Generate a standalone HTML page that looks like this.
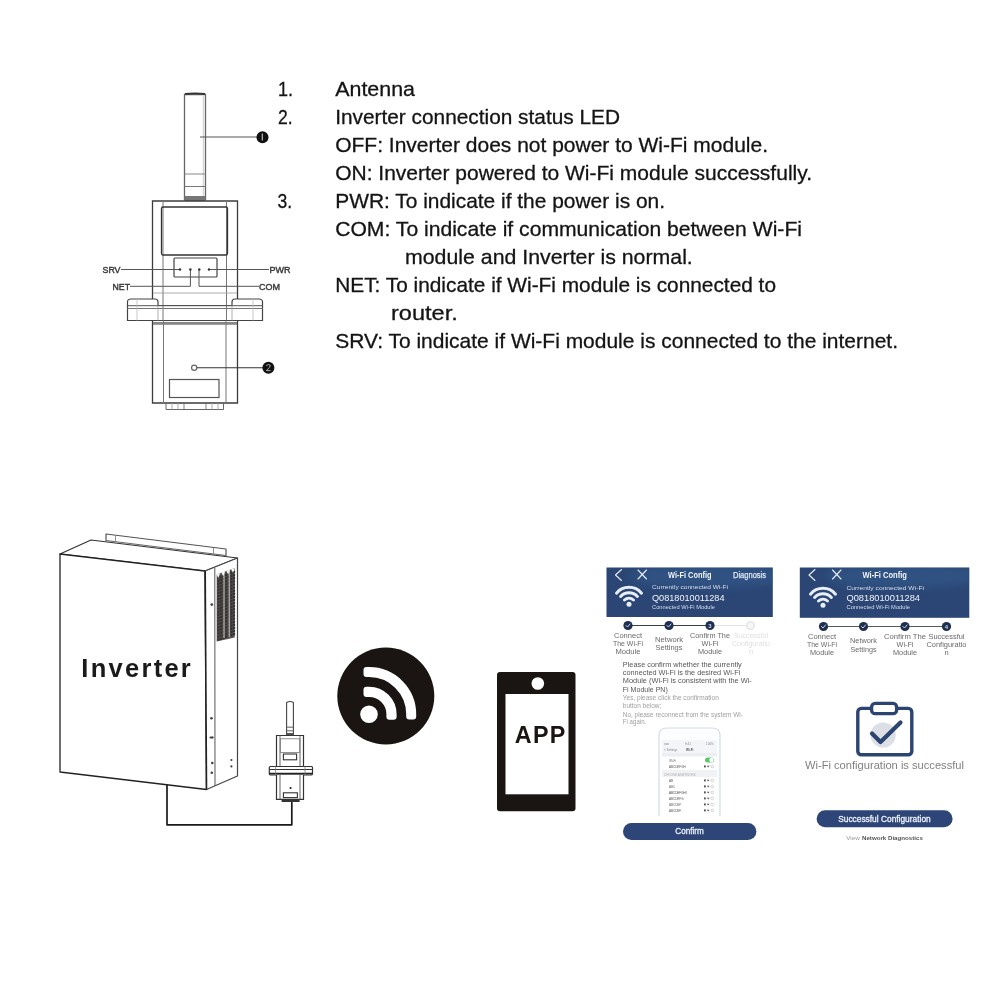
<!DOCTYPE html>
<html><head><meta charset="utf-8">
<style>
html,body{margin:0;padding:0;background:#fff;width:1000px;height:1000px;overflow:hidden}
svg{position:absolute;left:0;top:0;display:block;will-change:transform}
text{font-family:"Liberation Sans",sans-serif}
</style></head><body>
<svg width="1000" height="1000" viewBox="0 0 1000 1000">
<!-- TOP TEXT -->
<g id="toptext" font-size="21" fill="#141414" stroke="#141414" stroke-width="0.3">
<text x="278.0" y="96" textLength="15.0" lengthAdjust="spacingAndGlyphs">1.</text>
<text x="278.0" y="124" textLength="14.6" lengthAdjust="spacingAndGlyphs">2.</text>
<text x="277.6" y="208" textLength="14.6" lengthAdjust="spacingAndGlyphs">3.</text>
<text x="335.2" y="96" textLength="79.8" lengthAdjust="spacingAndGlyphs">Antenna</text>
<text x="335.2" y="124" textLength="284.8" lengthAdjust="spacingAndGlyphs">Inverter connection status LED</text>
<text x="335.2" y="152" textLength="432.8" lengthAdjust="spacingAndGlyphs">OFF: Inverter does not power to Wi-Fi module.</text>
<text x="335.2" y="180" textLength="476.8" lengthAdjust="spacingAndGlyphs">ON: Inverter powered to Wi-Fi module successfully.</text>
<text x="335.2" y="208" textLength="329.8" lengthAdjust="spacingAndGlyphs">PWR: To indicate if the power is on.</text>
<text x="335.2" y="236" textLength="466.8" lengthAdjust="spacingAndGlyphs">COM: To indicate if communication between Wi-Fi</text>
<text x="405.0" y="264" textLength="287.8" lengthAdjust="spacingAndGlyphs">module and Inverter is normal.</text>
<text x="335.2" y="292" textLength="440.8" lengthAdjust="spacingAndGlyphs">NET: To indicate if Wi-Fi module is connected to</text>
<text x="391.0" y="320" textLength="66.8" lengthAdjust="spacingAndGlyphs">router.</text>
<text x="335.2" y="348" textLength="562.8" lengthAdjust="spacingAndGlyphs">SRV: To indicate if Wi-Fi module is connected to the internet.</text>
</g>

<!-- MODULE DIAGRAM -->
<g id="module" fill="none" stroke="#444" stroke-width="1">
<!-- antenna -->
<path d="M184.5 200 V94.5 H205.5 V200" stroke="#666" stroke-width="1.3"/>
<path d="M185 94 Q195 92.6 205 94" stroke="#333" stroke-width="1.8"/>
<line x1="203.3" y1="96" x2="203.3" y2="196" stroke="#bbb" stroke-width="0.8"/>
<line x1="184.5" y1="174" x2="205.5" y2="174" stroke="#888"/>
<line x1="184.5" y1="186.5" x2="205.5" y2="186.5" stroke="#777"/>
<rect x="184.5" y="196" width="21" height="5" fill="#777" stroke="none"/>
<line x1="200" y1="137" x2="258" y2="137" stroke="#555" stroke-width="1.1"/>
<circle cx="262.5" cy="137.2" r="6" fill="#111" stroke="none"/><path d="M262.3 133.5 V140.5" stroke="#ccc" stroke-width="1.1"/>
<!-- upper body -->
<path d="M152.5 299 V201 H237.5 V299" stroke="#3c3c3c" stroke-width="1.3"/>
<line x1="163" y1="201" x2="163" y2="320" stroke="#777"/>
<line x1="226.5" y1="201" x2="226.5" y2="320" stroke="#777"/>
<rect x="161.5" y="207" width="66" height="48" rx="1.5" stroke="#333" stroke-width="1.3"/>
<rect x="174" y="258" width="43" height="19" rx="1" stroke="#444" stroke-width="1.2"/>
<!-- LED leads -->
<line x1="121" y1="269.5" x2="180" y2="269.5" stroke="#555"/>
<line x1="209" y1="269.5" x2="269" y2="269.5" stroke="#555"/>
<path d="M130 286.3 H190.4 V269" stroke="#555"/>
<path d="M259 286.3 H199 V269" stroke="#555"/>
<line x1="153" y1="293" x2="237" y2="293" stroke="#999" stroke-width="0.8"/>
<g fill="#333" stroke="none"><circle cx="180" cy="269.5" r="1.2"/><circle cx="190.4" cy="269.5" r="1.2"/><circle cx="199.3" cy="269.5" r="1.2"/><circle cx="209" cy="269.5" r="1.2"/></g>
<!-- clamp -->
<path d="M127.5 320.5 V302 Q127.5 299 131 299 H155 Q158 299 158 302 V305.5 H232 V302 Q232 299 235 299 H259 Q262.5 299 262.5 302 V320.5 Z" stroke="#444" stroke-width="1.2"/>
<line x1="127.5" y1="305.7" x2="262.5" y2="305.7" stroke="#555"/>
<line x1="127.5" y1="308.5" x2="262.5" y2="308.5" stroke="#777"/>
<line x1="137" y1="299" x2="137" y2="320.5" stroke="#bbb" stroke-width="0.8"/>
<line x1="253" y1="299" x2="253" y2="320.5" stroke="#bbb" stroke-width="0.8"/>
<line x1="158" y1="305.5" x2="158" y2="320.5" stroke="#999" stroke-width="0.8"/>
<line x1="232" y1="305.5" x2="232" y2="320.5" stroke="#999" stroke-width="0.8"/>
<!-- lower body -->
<path d="M152.5 320.5 V403 H237.5 V320.5" stroke="#3c3c3c" stroke-width="1.3"/>
<rect x="153" y="322" width="84" height="2.8" fill="#888" stroke="none"/>
<line x1="163.5" y1="320.5" x2="163.5" y2="403" stroke="#777"/>
<line x1="226" y1="320.5" x2="226" y2="403" stroke="#777"/>
<circle cx="194.2" cy="367.8" r="2.6" stroke="#666" stroke-width="1.2"/>
<line x1="197" y1="367.8" x2="263" y2="367.8" stroke="#333" stroke-width="1.1"/>
<circle cx="268.4" cy="367.8" r="6" fill="#111" stroke="none"/><path d="M266.2 365.6 Q268.5 363.5 270.3 365.3 Q270.6 367 266.3 370.6 H270.6" stroke="#bbb" stroke-width="0.9"/>
<rect x="169.5" y="379.5" width="49.5" height="18" stroke="#555" stroke-width="1.2"/>
<!-- connector -->
<path d="M166 403 V409.5 H223.5 V403" stroke="#666"/>
<line x1="172" y1="403" x2="172" y2="409.5" stroke="#999" stroke-width="0.8"/>
<line x1="178" y1="403" x2="178" y2="409.5" stroke="#999" stroke-width="0.8"/>
<line x1="184" y1="403" x2="184" y2="409.5" stroke="#666" stroke-width="0.8"/>
<line x1="206" y1="403" x2="206" y2="409.5" stroke="#666" stroke-width="0.8"/>
<line x1="212" y1="403" x2="212" y2="409.5" stroke="#999" stroke-width="0.8"/>
<line x1="218" y1="403" x2="218" y2="409.5" stroke="#999" stroke-width="0.8"/>
</g>
<g font-size="9.6" fill="#3a3a3a" stroke="#3a3a3a" stroke-width="0.45">
<text x="102.5" y="273" textLength="18" lengthAdjust="spacingAndGlyphs">SRV</text>
<text x="112.5" y="289.8" textLength="17.5" lengthAdjust="spacingAndGlyphs">NET</text>
<text x="269.5" y="273" textLength="21" lengthAdjust="spacingAndGlyphs">PWR</text>
<text x="259" y="289.8" textLength="21" lengthAdjust="spacingAndGlyphs">COM</text>
</g>

<!-- INVERTER -->
<g id="inverter" fill="none" stroke="#333" stroke-width="1.2" stroke-linejoin="round">
<path d="M106 541 V534 L226 549 V556" stroke="#555"/>
<line x1="106" y1="540.5" x2="226" y2="555.5" stroke="#666" stroke-width="1"/>
<line x1="115.5" y1="536" x2="115.5" y2="541.5" stroke="#888" stroke-width="0.9"/>
<line x1="213.5" y1="548" x2="213.5" y2="554" stroke="#888" stroke-width="0.9"/>
<path d="M60 554 L91 540 L237.5 558 L205 571 Z" fill="#fff" stroke="#333"/>
<path d="M60 554 L205 571 L206.5 789.5 L60 772 Z" fill="#fff" stroke="#222" stroke-width="1.3"/>
<path d="M205 571 L237.5 558 L237.5 776 L206.5 789.5" fill="#fff" stroke="#444"/>
<line x1="214.8" y1="568" x2="215" y2="786" stroke="#555" stroke-width="1"/>
<line x1="205.2" y1="571" x2="206.5" y2="789.5" stroke="#222" stroke-width="1.6"/>
<path d="M216.7 574.4 L234.7 568 L234.7 637.5 L216.7 641.5 Z" fill="#5b5150" stroke="none"/>
<g fill="#c9c2c0">
<rect x="217.8" y="577.0" width="1.1" height="1.2"/>
<rect x="217.8" y="580.1" width="1.1" height="1.2"/>
<rect x="217.8" y="583.2" width="1.1" height="1.2"/>
<rect x="217.8" y="586.3" width="1.1" height="1.2"/>
<rect x="217.8" y="589.4" width="1.1" height="1.2"/>
<rect x="217.8" y="592.5" width="1.1" height="1.2"/>
<rect x="217.8" y="595.6" width="1.1" height="1.2"/>
<rect x="217.8" y="598.7" width="1.1" height="1.2"/>
<rect x="217.8" y="601.8" width="1.1" height="1.2"/>
<rect x="217.8" y="604.9" width="1.1" height="1.2"/>
<rect x="217.8" y="608.0" width="1.1" height="1.2"/>
<rect x="217.8" y="611.1" width="1.1" height="1.2"/>
<rect x="217.8" y="614.2" width="1.1" height="1.2"/>
<rect x="217.8" y="617.3" width="1.1" height="1.2"/>
<rect x="217.8" y="620.4" width="1.1" height="1.2"/>
<rect x="217.8" y="623.5" width="1.1" height="1.2"/>
<rect x="217.8" y="626.6" width="1.1" height="1.2"/>
<rect x="217.8" y="629.7" width="1.1" height="1.2"/>
<rect x="217.8" y="632.8" width="1.1" height="1.2"/>
<rect x="217.8" y="635.9" width="1.1" height="1.2"/>
<rect x="217.8" y="639.0" width="1.1" height="1.2"/>
<rect x="220.4" y="576.1" width="1.1" height="1.2"/>
<rect x="220.4" y="579.2" width="1.1" height="1.2"/>
<rect x="220.4" y="582.3" width="1.1" height="1.2"/>
<rect x="220.4" y="585.4" width="1.1" height="1.2"/>
<rect x="220.4" y="588.5" width="1.1" height="1.2"/>
<rect x="220.4" y="591.6" width="1.1" height="1.2"/>
<rect x="220.4" y="594.7" width="1.1" height="1.2"/>
<rect x="220.4" y="597.8" width="1.1" height="1.2"/>
<rect x="220.4" y="600.9" width="1.1" height="1.2"/>
<rect x="220.4" y="604.0" width="1.1" height="1.2"/>
<rect x="220.4" y="607.1" width="1.1" height="1.2"/>
<rect x="220.4" y="610.2" width="1.1" height="1.2"/>
<rect x="220.4" y="613.3" width="1.1" height="1.2"/>
<rect x="220.4" y="616.4" width="1.1" height="1.2"/>
<rect x="220.4" y="619.5" width="1.1" height="1.2"/>
<rect x="220.4" y="622.6" width="1.1" height="1.2"/>
<rect x="220.4" y="625.7" width="1.1" height="1.2"/>
<rect x="220.4" y="628.8" width="1.1" height="1.2"/>
<rect x="220.4" y="631.9" width="1.1" height="1.2"/>
<rect x="220.4" y="635.0" width="1.1" height="1.2"/>
<rect x="220.4" y="638.1" width="1.1" height="1.2"/>
<rect x="223.0" y="575.2" width="1.1" height="1.2"/>
<rect x="223.0" y="578.3" width="1.1" height="1.2"/>
<rect x="223.0" y="581.4" width="1.1" height="1.2"/>
<rect x="223.0" y="584.5" width="1.1" height="1.2"/>
<rect x="223.0" y="587.6" width="1.1" height="1.2"/>
<rect x="223.0" y="590.7" width="1.1" height="1.2"/>
<rect x="223.0" y="593.8" width="1.1" height="1.2"/>
<rect x="223.0" y="596.9" width="1.1" height="1.2"/>
<rect x="223.0" y="600.0" width="1.1" height="1.2"/>
<rect x="223.0" y="603.1" width="1.1" height="1.2"/>
<rect x="223.0" y="606.2" width="1.1" height="1.2"/>
<rect x="223.0" y="609.3" width="1.1" height="1.2"/>
<rect x="223.0" y="612.4" width="1.1" height="1.2"/>
<rect x="223.0" y="615.5" width="1.1" height="1.2"/>
<rect x="223.0" y="618.6" width="1.1" height="1.2"/>
<rect x="223.0" y="621.7" width="1.1" height="1.2"/>
<rect x="223.0" y="624.8" width="1.1" height="1.2"/>
<rect x="223.0" y="627.9" width="1.1" height="1.2"/>
<rect x="223.0" y="631.0" width="1.1" height="1.2"/>
<rect x="223.0" y="634.1" width="1.1" height="1.2"/>
<rect x="223.0" y="637.2" width="1.1" height="1.2"/>
<rect x="225.6" y="574.2" width="1.1" height="1.2"/>
<rect x="225.6" y="577.3" width="1.1" height="1.2"/>
<rect x="225.6" y="580.4" width="1.1" height="1.2"/>
<rect x="225.6" y="583.5" width="1.1" height="1.2"/>
<rect x="225.6" y="586.6" width="1.1" height="1.2"/>
<rect x="225.6" y="589.7" width="1.1" height="1.2"/>
<rect x="225.6" y="592.8" width="1.1" height="1.2"/>
<rect x="225.6" y="595.9" width="1.1" height="1.2"/>
<rect x="225.6" y="599.0" width="1.1" height="1.2"/>
<rect x="225.6" y="602.1" width="1.1" height="1.2"/>
<rect x="225.6" y="605.2" width="1.1" height="1.2"/>
<rect x="225.6" y="608.3" width="1.1" height="1.2"/>
<rect x="225.6" y="611.4" width="1.1" height="1.2"/>
<rect x="225.6" y="614.5" width="1.1" height="1.2"/>
<rect x="225.6" y="617.6" width="1.1" height="1.2"/>
<rect x="225.6" y="620.7" width="1.1" height="1.2"/>
<rect x="225.6" y="623.8" width="1.1" height="1.2"/>
<rect x="225.6" y="626.9" width="1.1" height="1.2"/>
<rect x="225.6" y="630.0" width="1.1" height="1.2"/>
<rect x="225.6" y="633.1" width="1.1" height="1.2"/>
<rect x="225.6" y="636.2" width="1.1" height="1.2"/>
<rect x="228.2" y="573.3" width="1.1" height="1.2"/>
<rect x="228.2" y="576.4" width="1.1" height="1.2"/>
<rect x="228.2" y="579.5" width="1.1" height="1.2"/>
<rect x="228.2" y="582.6" width="1.1" height="1.2"/>
<rect x="228.2" y="585.7" width="1.1" height="1.2"/>
<rect x="228.2" y="588.8" width="1.1" height="1.2"/>
<rect x="228.2" y="591.9" width="1.1" height="1.2"/>
<rect x="228.2" y="595.0" width="1.1" height="1.2"/>
<rect x="228.2" y="598.1" width="1.1" height="1.2"/>
<rect x="228.2" y="601.2" width="1.1" height="1.2"/>
<rect x="228.2" y="604.3" width="1.1" height="1.2"/>
<rect x="228.2" y="607.4" width="1.1" height="1.2"/>
<rect x="228.2" y="610.5" width="1.1" height="1.2"/>
<rect x="228.2" y="613.6" width="1.1" height="1.2"/>
<rect x="228.2" y="616.7" width="1.1" height="1.2"/>
<rect x="228.2" y="619.8" width="1.1" height="1.2"/>
<rect x="228.2" y="622.9" width="1.1" height="1.2"/>
<rect x="228.2" y="626.0" width="1.1" height="1.2"/>
<rect x="228.2" y="629.1" width="1.1" height="1.2"/>
<rect x="228.2" y="632.2" width="1.1" height="1.2"/>
<rect x="228.2" y="635.3" width="1.1" height="1.2"/>
<rect x="230.8" y="572.4" width="1.1" height="1.2"/>
<rect x="230.8" y="575.5" width="1.1" height="1.2"/>
<rect x="230.8" y="578.6" width="1.1" height="1.2"/>
<rect x="230.8" y="581.7" width="1.1" height="1.2"/>
<rect x="230.8" y="584.8" width="1.1" height="1.2"/>
<rect x="230.8" y="587.9" width="1.1" height="1.2"/>
<rect x="230.8" y="591.0" width="1.1" height="1.2"/>
<rect x="230.8" y="594.1" width="1.1" height="1.2"/>
<rect x="230.8" y="597.2" width="1.1" height="1.2"/>
<rect x="230.8" y="600.3" width="1.1" height="1.2"/>
<rect x="230.8" y="603.4" width="1.1" height="1.2"/>
<rect x="230.8" y="606.5" width="1.1" height="1.2"/>
<rect x="230.8" y="609.6" width="1.1" height="1.2"/>
<rect x="230.8" y="612.7" width="1.1" height="1.2"/>
<rect x="230.8" y="615.8" width="1.1" height="1.2"/>
<rect x="230.8" y="618.9" width="1.1" height="1.2"/>
<rect x="230.8" y="622.0" width="1.1" height="1.2"/>
<rect x="230.8" y="625.1" width="1.1" height="1.2"/>
<rect x="230.8" y="628.2" width="1.1" height="1.2"/>
<rect x="230.8" y="631.3" width="1.1" height="1.2"/>
<rect x="230.8" y="634.4" width="1.1" height="1.2"/>
<rect x="233.4" y="571.5" width="1.1" height="1.2"/>
<rect x="233.4" y="574.6" width="1.1" height="1.2"/>
<rect x="233.4" y="577.7" width="1.1" height="1.2"/>
<rect x="233.4" y="580.8" width="1.1" height="1.2"/>
<rect x="233.4" y="583.9" width="1.1" height="1.2"/>
<rect x="233.4" y="587.0" width="1.1" height="1.2"/>
<rect x="233.4" y="590.1" width="1.1" height="1.2"/>
<rect x="233.4" y="593.2" width="1.1" height="1.2"/>
<rect x="233.4" y="596.3" width="1.1" height="1.2"/>
<rect x="233.4" y="599.4" width="1.1" height="1.2"/>
<rect x="233.4" y="602.5" width="1.1" height="1.2"/>
<rect x="233.4" y="605.6" width="1.1" height="1.2"/>
<rect x="233.4" y="608.7" width="1.1" height="1.2"/>
<rect x="233.4" y="611.8" width="1.1" height="1.2"/>
<rect x="233.4" y="614.9" width="1.1" height="1.2"/>
<rect x="233.4" y="618.0" width="1.1" height="1.2"/>
<rect x="233.4" y="621.1" width="1.1" height="1.2"/>
<rect x="233.4" y="624.2" width="1.1" height="1.2"/>
<rect x="233.4" y="627.3" width="1.1" height="1.2"/>
<rect x="233.4" y="630.4" width="1.1" height="1.2"/>
<rect x="233.4" y="633.5" width="1.1" height="1.2"/>
</g>
<g stroke="#f4f4f4" stroke-width="0.8">
<line x1="224" y1="572" x2="224" y2="638"/>
<line x1="229.2" y1="570" x2="229.2" y2="637"/>
</g>
<g fill="#fff" stroke="none">
<path d="M216.7 574.4 L220 573.2 L218.3 578 Z"/><path d="M221.5 572.6 L225 571.4 L223.2 576.2 Z"/><path d="M226.5 570.9 L230 569.6 L228.2 574.4 Z"/><path d="M231.2 569.2 L234.7 568 L233 572.8 Z"/>
</g>
<g fill="#444" stroke="none">
<circle cx="211.8" cy="604.6" r="1.4"/>
<circle cx="211.5" cy="718.3" r="1.3"/>
<circle cx="212.3" cy="737.5" r="1.3"/><circle cx="210.5" cy="737.5" r="1.1"/>
<circle cx="212.3" cy="763" r="1.3"/>
<circle cx="211.8" cy="772.8" r="1.3"/>
<circle cx="231.4" cy="760" r="1.1"/>
<circle cx="231.4" cy="766.4" r="1.1"/>
</g>
<polyline points="167,784.5 167,824.8 291.8,824.8 291.8,801" stroke="#1a1a1a" stroke-width="1.7"/>
</g>
<text x="81.3" y="677.4" font-size="25.5" font-weight="bold" fill="#1a1a1a" textLength="109.5" lengthAdjust="spacing">Inverter</text>
<!-- small module -->
<g id="smallmod" fill="none" stroke="#333" stroke-width="1">
<path d="M286.6 735 V702.5 Q290 700.5 293.4 702.5 V735" fill="#fff" stroke="#444" stroke-width="1.1"/>
<rect x="287" y="726.5" width="6" height="1.4" fill="#888" stroke="none"/>
<rect x="287" y="730" width="6" height="1.4" fill="#888" stroke="none"/>
<rect x="286.6" y="733" width="6.8" height="2.2" fill="#555" stroke="none"/>
<path d="M276.5 766 V735.5 H303.5 V766" fill="#fff" stroke="#333" stroke-width="1.2"/>
<line x1="280" y1="735.5" x2="280" y2="766" stroke="#555" stroke-width="0.9"/>
<line x1="300" y1="735.5" x2="300" y2="766" stroke="#555" stroke-width="0.9"/>
<rect x="280.3" y="738.8" width="19.5" height="13.6" stroke="#777" stroke-width="0.8"/>
<rect x="283.4" y="754" width="13.2" height="5.8" stroke="#333" stroke-width="1.1"/>
<rect x="269.3" y="766.5" width="43.2" height="8.3" rx="1" fill="#fff" stroke="#333" stroke-width="1.2"/>
<line x1="269.3" y1="769.5" x2="312.5" y2="769.5" stroke="#333" stroke-width="1"/>
<line x1="269.3" y1="773.3" x2="312.5" y2="773.3" stroke="#222" stroke-width="1.3"/>
<line x1="275.6" y1="766.5" x2="275.6" y2="774.8" stroke="#777" stroke-width="0.8"/>
<line x1="305" y1="766.5" x2="305" y2="774.8" stroke="#777" stroke-width="0.8"/>
<path d="M276.5 775 V799.4 H303.5 V775" fill="#fff" stroke="#333" stroke-width="1.2"/>
<line x1="280" y1="775" x2="280" y2="799.4" stroke="#555" stroke-width="0.9"/>
<line x1="300" y1="775" x2="300" y2="799.4" stroke="#555" stroke-width="0.9"/>
<circle cx="290.6" cy="788" r="1.1" fill="#222" stroke="none"/>
<rect x="283.4" y="792.8" width="14" height="4.8" stroke="#333" stroke-width="1.1"/>
<rect x="281.6" y="799" width="18" height="3" fill="#333" stroke="none"/>
</g>
<!-- WIFI CIRCLE -->
<circle cx="385.8" cy="696" r="48.5" fill="#1a1412"/>
<circle cx="369" cy="714.3" r="8.8" fill="#fff"/>
<g fill="#fff" stroke="#fff" stroke-width="6" stroke-linejoin="round">
<path d="M366.5 689.7 H369 A24.6 24.6 0 0 1 393.6 714.3 V716.8 H389.4 V714.3 A20.4 20.4 0 0 0 369 693.9 H366.5 Z"/>
<path d="M366.5 670.1 H369 A44.2 44.2 0 0 1 413.2 714.3 V716.5 H409.2 V714.3 A40.2 40.2 0 0 0 369 674.1 H366.5 Z"/>
</g>
<!-- PHONE -->
<rect x="497" y="672" width="78.5" height="139.3" rx="3" fill="#1a1412"/>
<rect x="505.5" y="694" width="63" height="100.3" fill="#fff"/>
<circle cx="537.8" cy="683.5" r="6.3" fill="#fff"/>
<text x="514.8" y="743.3" font-size="23.3" font-weight="bold" fill="#1a1412" textLength="50.5" lengthAdjust="spacing">APP</text>

<!-- SCREEN 1 -->
<defs>
<clipPath id="h1"><rect x="606.5" y="567.5" width="166.3" height="49.5"/></clipPath>
<clipPath id="h2"><rect x="799.8" y="567.5" width="169.5" height="50.3"/></clipPath>
<filter id="blur4" x="-50%" y="-50%" width="200%" height="200%"><feGaussianBlur stdDeviation="4"/></filter>
</defs>
<rect x="606.5" y="567.5" width="166.3" height="49.5" fill="#2b4675"/>
<g clip-path="url(#h1)"><ellipse cx="710" cy="576" rx="80" ry="12" fill="#3b6a9c" opacity="0.35" filter="url(#blur4)"/></g>
<g fill="none" stroke="#e8eef8" stroke-width="1.1" stroke-linecap="round" stroke-linejoin="round">
<polyline points="621.5,569.5 615.5,575 621.5,580.5"/>
<line x1="638" y1="570" x2="646.5" y2="579"/><line x1="646.5" y1="570" x2="638" y2="579"/>
<path d="M616.5 593.2 A16.3 16.3 0 0 1 641.5 593.2" stroke-width="3"/>
<path d="M620.6 596.5 A11.5 11.5 0 0 1 637.4 596.5" stroke-width="3"/>
<path d="M624.5 600 A6.8 6.8 0 0 1 633.5 600" stroke-width="3"/>
</g>
<circle cx="629" cy="604.3" r="2.5" fill="#e8eef8"/>
<g fill="#f2f5fa">
<text x="668" y="577.8" font-size="8.5" font-weight="bold" textLength="43.5" lengthAdjust="spacingAndGlyphs">Wi-Fi Config</text>
<text x="733" y="577.8" font-size="8.3" fill="#dfe7f3" stroke="#dfe7f3" stroke-width="0.25" textLength="33" lengthAdjust="spacingAndGlyphs">Diagnosis</text>
<text x="652" y="589.3" font-size="6" fill="#d6dfee" textLength="76" lengthAdjust="spacingAndGlyphs">Currently connected Wi-Fi</text>
<text x="652" y="601" font-size="9.3" textLength="72.5" lengthAdjust="spacingAndGlyphs">Q0818010011284</text>
<text x="652" y="608.5" font-size="5.5" fill="#d6dfee" textLength="63" lengthAdjust="spacingAndGlyphs">Connected Wi-Fi Module</text>
</g>
<line x1="628" y1="625.5" x2="710" y2="625.5" stroke="#3a3f4a" stroke-width="1.2"/>
<line x1="710" y1="625.5" x2="750.5" y2="625.5" stroke="#e2e2e2" stroke-width="1.2"/>
<g fill="#1e2f4f">
<circle cx="628" cy="625.5" r="4.6"/><circle cx="669" cy="625.5" r="4.6"/><circle cx="710" cy="625.5" r="4.6"/>
</g>
<circle cx="750.5" cy="625.5" r="4.6" fill="#e6e6e6"/>
<circle cx="750.5" cy="625.5" r="3" fill="#f6f6f6"/>
<g fill="none" stroke="#cfd6e4" stroke-width="1" stroke-linecap="round">
<polyline points="626,625.5 627.5,627 630,624"/>
<polyline points="667,625.5 668.5,627 671,624"/>
</g>
<text x="710" y="627.6" font-size="6" font-weight="bold" fill="#cfd6e4" text-anchor="middle">3</text>
<g font-size="7.5">
<g fill="#6a6a6a">
<text x="628" y="637.7" text-anchor="middle" textLength="28" lengthAdjust="spacingAndGlyphs">Connect</text>
<text x="628" y="645.7" text-anchor="middle" textLength="30" lengthAdjust="spacingAndGlyphs">The Wi-Fi</text>
<text x="628" y="653.7" text-anchor="middle" textLength="25" lengthAdjust="spacingAndGlyphs">Module</text>
<text x="669" y="641.7" text-anchor="middle" textLength="28" lengthAdjust="spacingAndGlyphs">Network</text>
<text x="669" y="649.7" text-anchor="middle" textLength="27" lengthAdjust="spacingAndGlyphs">Settings</text>
<text x="710" y="637.7" text-anchor="middle" textLength="40" lengthAdjust="spacingAndGlyphs">Confirm The</text>
<text x="710" y="645.7" text-anchor="middle" textLength="17" lengthAdjust="spacingAndGlyphs">Wi-Fi</text>
<text x="710" y="653.7" text-anchor="middle" textLength="24" lengthAdjust="spacingAndGlyphs">Module</text>
</g>
<g fill="#e0e0e0">
<text x="751" y="637.7" text-anchor="middle" textLength="34" lengthAdjust="spacingAndGlyphs">Successful</text>
<text x="751" y="645.7" text-anchor="middle" textLength="38" lengthAdjust="spacingAndGlyphs">Configuratio</text>
<text x="751" y="653.7" text-anchor="middle">n</text>
</g>
</g>
<g font-size="7.6">
<g fill="#555">
<text x="622.8" y="666.8" textLength="119" lengthAdjust="spacingAndGlyphs">Please confirm whether the currently</text>
<text x="622.8" y="675" textLength="117.5" lengthAdjust="spacingAndGlyphs">connected Wi-Fi is the desired Wi-Fi</text>
<text x="622.8" y="683.3" textLength="129" lengthAdjust="spacingAndGlyphs">Module (Wi-Fi is consistent with the Wi-</text>
<text x="622.8" y="691.6" textLength="45" lengthAdjust="spacingAndGlyphs">Fi Module PN)</text>
</g>
<g fill="#a0a0a0" font-size="6.8">
<text x="622.8" y="700.4" textLength="96" lengthAdjust="spacingAndGlyphs">Yes, please click the confirmation</text>
<text x="622.8" y="708.4" textLength="38.5" lengthAdjust="spacingAndGlyphs">button below;</text>
<text x="622.8" y="716.8" textLength="120" lengthAdjust="spacingAndGlyphs">No, please reconnect from the system Wi-</text>
<text x="622.8" y="724.4" textLength="23.5" lengthAdjust="spacingAndGlyphs">Fi again.</text>
</g>
</g>
<!-- phone mock -->
<path d="M659 816 V735 Q659 728 667 728 H712 Q720 728 720 735 V816" fill="#fcfdfe" stroke="#d5dde6" stroke-width="1.2"/>
<rect x="662" y="740" width="55" height="76" fill="#fff"/>
<rect x="662" y="740" width="55" height="13" fill="#f4f5f8"/>
<rect x="662" y="753" width="55" height="3.5" fill="#eceef2"/>
<rect x="662" y="770" width="55" height="7" fill="#f1f2f5"/>
<g fill="#888" font-size="3">
<text x="664" y="745">ooo</text><text x="685" y="745">9:41</text><text x="706" y="745">100%</text>
<text x="664" y="750.5">&lt; Settings</text><text x="686" y="750.5" font-weight="bold" fill="#555">Wi-Fi</text>
<text x="669" y="761.5" fill="#666">Wi-Fi</text>
<text x="669" y="768" fill="#555">ABCDEFGH</text>
<text x="664" y="775.5" fill="#aaa">CHOOSE A NETWORK</text>
<text x="669" y="781.5" fill="#555">AB</text>
<text x="669" y="787.5" fill="#666">ABC</text>
<text x="669" y="793.5" fill="#444">ABCDEFGHI</text>
<text x="669" y="799.5" fill="#555">ABCDEFG</text>
<text x="669" y="805.5" fill="#666">ABCDEF</text>
<text x="669" y="811.5" fill="#555">ABCDEF</text>
</g>
<rect x="705" y="757.5" width="9" height="5" rx="2.5" fill="#5cc66a"/>
<circle cx="711.5" cy="760" r="2.2" fill="#fff"/>
<g>
<rect x="704" y="765.4" width="1.8" height="2" fill="#555"/>
<path d="M706.8 765.7 L708.2 767.4 L709.6 765.7 Z" fill="#555"/>
<circle cx="712.3" cy="766.5" r="1.3" fill="none" stroke="#aaa" stroke-width="0.5"/>
<rect x="704" y="779.4" width="1.8" height="2" fill="#555"/>
<path d="M706.8 779.7 L708.2 781.4 L709.6 779.7 Z" fill="#555"/>
<circle cx="712.3" cy="780.5" r="1.3" fill="none" stroke="#aaa" stroke-width="0.5"/>
<rect x="704" y="785.4" width="1.8" height="2" fill="#555"/>
<path d="M706.8 785.7 L708.2 787.4 L709.6 785.7 Z" fill="#555"/>
<circle cx="712.3" cy="786.5" r="1.3" fill="none" stroke="#aaa" stroke-width="0.5"/>
<rect x="704" y="791.4" width="1.8" height="2" fill="#555"/>
<path d="M706.8 791.7 L708.2 793.4 L709.6 791.7 Z" fill="#555"/>
<circle cx="712.3" cy="792.5" r="1.3" fill="none" stroke="#aaa" stroke-width="0.5"/>
<rect x="704" y="797.4" width="1.8" height="2" fill="#555"/>
<path d="M706.8 797.7 L708.2 799.4 L709.6 797.7 Z" fill="#555"/>
<circle cx="712.3" cy="798.5" r="1.3" fill="none" stroke="#aaa" stroke-width="0.5"/>
<rect x="704" y="803.4" width="1.8" height="2" fill="#555"/>
<path d="M706.8 803.7 L708.2 805.4 L709.6 803.7 Z" fill="#555"/>
<circle cx="712.3" cy="804.5" r="1.3" fill="none" stroke="#aaa" stroke-width="0.5"/>
<rect x="704" y="809.4" width="1.8" height="2" fill="#555"/>
<path d="M706.8 809.7 L708.2 811.4 L709.6 809.7 Z" fill="#555"/>
<circle cx="712.3" cy="810.5" r="1.3" fill="none" stroke="#aaa" stroke-width="0.5"/>
</g>
<rect x="600" y="816" width="180" height="6" fill="#fff"/>
<rect x="623" y="823" width="133.4" height="17" rx="8.5" fill="#2e4677"/>
<text x="689.6" y="834" font-size="8.8" fill="#eef2f8" stroke="#eef2f8" stroke-width="0.3" text-anchor="middle" textLength="28.5" lengthAdjust="spacingAndGlyphs">Confirm</text>

<!-- SCREEN 2 -->
<rect x="799.8" y="567.5" width="169.5" height="50.3" fill="#2b4675"/>
<g clip-path="url(#h2)"><ellipse cx="905" cy="576" rx="80" ry="12" fill="#3b6a9c" opacity="0.35" filter="url(#blur4)"/></g>
<g fill="none" stroke="#e8eef8" stroke-width="1.1" stroke-linecap="round" stroke-linejoin="round">
<polyline points="815,569.5 809,575 815,580.5"/>
<line x1="832.5" y1="570" x2="841" y2="579"/><line x1="841" y1="570" x2="832.5" y2="579"/>
<path d="M810.5 594.2 A16.3 16.3 0 0 1 835.5 594.2" stroke-width="3"/>
<path d="M814.6 597.5 A11.5 11.5 0 0 1 831.4 597.5" stroke-width="3"/>
<path d="M818.5 601 A6.8 6.8 0 0 1 827.5 601" stroke-width="3"/>
</g>
<circle cx="823" cy="605.3" r="2.5" fill="#e8eef8"/>
<g fill="#f2f5fa">
<text x="862.5" y="577.8" font-size="8.5" font-weight="bold" textLength="44.5" lengthAdjust="spacingAndGlyphs">Wi-Fi Config</text>
<text x="846.5" y="589.5" font-size="6" fill="#d6dfee" textLength="77.5" lengthAdjust="spacingAndGlyphs">Currently connected Wi-Fi</text>
<text x="846.5" y="601.2" font-size="9.3" textLength="73.5" lengthAdjust="spacingAndGlyphs">Q0818010011284</text>
<text x="846.5" y="609" font-size="5.5" fill="#d6dfee" textLength="63.5" lengthAdjust="spacingAndGlyphs">Connected Wi-Fi Module</text>
</g>
<line x1="823.5" y1="626.5" x2="946.5" y2="626.5" stroke="#555a62" stroke-width="1.2"/>
<g fill="#1e2f4f">
<circle cx="823.5" cy="626.5" r="4.6"/><circle cx="863.5" cy="626.5" r="4.6"/><circle cx="905" cy="626.5" r="4.6"/><circle cx="946.5" cy="626.5" r="4.6"/>
</g>
<g fill="none" stroke="#cfd6e4" stroke-width="1" stroke-linecap="round">
<polyline points="821.5,626.5 823,628 825.5,625"/>
<polyline points="861.5,626.5 863,628 865.5,625"/>
<polyline points="903,626.5 904.5,628 907,625"/>
</g>
<text x="946.5" y="628.6" font-size="6" font-weight="bold" fill="#cfd6e4" text-anchor="middle">4</text>
<g font-size="7.5" fill="#6a6a6a">
<text x="822" y="638.7" text-anchor="middle" textLength="28" lengthAdjust="spacingAndGlyphs">Connect</text>
<text x="822" y="647.2" text-anchor="middle" textLength="30" lengthAdjust="spacingAndGlyphs">The Wi-Fi</text>
<text x="822" y="655.2" text-anchor="middle" textLength="24" lengthAdjust="spacingAndGlyphs">Module</text>
<text x="863.5" y="643" text-anchor="middle" textLength="27" lengthAdjust="spacingAndGlyphs">Network</text>
<text x="863.5" y="651.5" text-anchor="middle" textLength="26" lengthAdjust="spacingAndGlyphs">Settings</text>
<text x="905" y="638.7" text-anchor="middle" textLength="42" lengthAdjust="spacingAndGlyphs">Confirm The</text>
<text x="905" y="647.2" text-anchor="middle" textLength="17" lengthAdjust="spacingAndGlyphs">Wi-Fi</text>
<text x="905" y="655.2" text-anchor="middle" textLength="24" lengthAdjust="spacingAndGlyphs">Module</text>
<text x="946.5" y="638.7" text-anchor="middle" textLength="36" lengthAdjust="spacingAndGlyphs">Successful</text>
<text x="946.5" y="647.2" text-anchor="middle" textLength="40" lengthAdjust="spacingAndGlyphs">Configuratio</text>
<text x="946.5" y="655.2" text-anchor="middle">n</text>
</g>
<!-- clipboard -->
<circle cx="883.2" cy="735" r="12.6" fill="#dcdfe5"/>
<rect x="857.8" y="708.4" width="54" height="46.3" rx="3.5" fill="none" stroke="#2b4470" stroke-width="3.4"/>
<rect x="871.6" y="703.4" width="25" height="10.3" rx="3.5" fill="#fff" stroke="#2b4470" stroke-width="3.3"/>
<polyline points="872,733.5 880.5,742 900.5,722.5" fill="none" stroke="#2b4470" stroke-width="4.2" stroke-linecap="round" stroke-linejoin="round"/>
<text x="805" y="769" font-size="10.5" fill="#808080" textLength="159" lengthAdjust="spacingAndGlyphs">Wi-Fi configuration is successful</text>
<rect x="816.6" y="810.2" width="136" height="17" rx="8.5" fill="#2e4677"/>
<text x="838.2" y="822" font-size="8.6" fill="#eef2f8" stroke="#eef2f8" stroke-width="0.3" textLength="92.5" lengthAdjust="spacingAndGlyphs">Successful Configuration</text>
<text x="846.3" y="839.6" font-size="5.8" fill="#999" textLength="13.5" lengthAdjust="spacingAndGlyphs">View</text>
<text x="862" y="839.6" font-size="5.8" font-weight="bold" fill="#555" textLength="60.8" lengthAdjust="spacingAndGlyphs">Network Diagnostics</text>
</svg>
</body></html>
